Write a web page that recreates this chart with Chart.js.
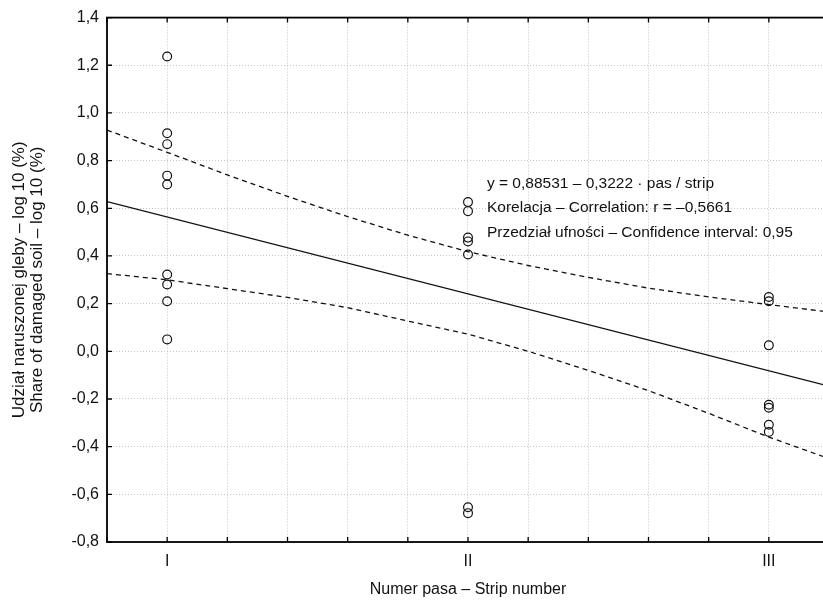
<!DOCTYPE html>
<html><head><meta charset="utf-8">
<script src="https://cdn.jsdelivr.net/npm/chart.js@4.4.0/dist/chart.umd.min.js"></script>
<style>html,body{margin:0;padding:0;overflow:hidden;background:#fff;width:823px;height:601px}canvas{display:block}</style>
</head><body>
<canvas id="c" width="840" height="601"></canvas>
<script>
// ---- data ----
const stripPositions = [1, 2, 3];
const stripLabels = ['I', 'II', 'III'];
const stripI = [1.237, 0.915, 0.869, 0.737, 0.700, 0.322, 0.280, 0.210, 0.050];
const stripII = [0.626, 0.588, 0.477, 0.461, 0.406, -0.654, -0.679];
const stripIII = [0.228, 0.210, 0.025, -0.224, -0.237, -0.308, -0.338];
const fitX = [0.8, 3.2];
const fitY = [0.628, -0.146];
const bandX = [0.8, 1.0, 1.2, 1.4, 1.6, 1.8, 2.0, 2.2, 2.4, 2.6, 2.8, 3.0, 3.2];
const upperBand = [0.928, 0.835, 0.740, 0.650, 0.565, 0.487, 0.418, 0.360, 0.310, 0.265, 0.228, 0.196, 0.165];
const lowerBand = [0.326, 0.300, 0.263, 0.226, 0.183, 0.127, 0.072, 0.000, -0.080, -0.165, -0.260, -0.360, -0.450];
const annotationLines = [
  'y = 0,88531 \u2013 0,3222 \u00b7 pas / strip',
  'Korelacja \u2013 Correlation: r = \u20130,5661',
  'Przedzia\u0142 ufno\u015bci \u2013 Confidence interval: 0,95'
];
const xTitle = 'Numer pasa \u2013 Strip number';
const yTitle = ['Udzia\u0142 naruszonej gleby \u2013 log 10 (%)', 'Share of damaged soil \u2013 log 10 (%)'];

const FONT = '"Liberation Sans", Arial, Helvetica, sans-serif';
const pts = (xs, ys) => ys.map((v, i) => ({ x: Array.isArray(xs) ? xs[i] : xs, y: v }));

const framePlugin = {
  id: 'frame',
  afterDatasetsDraw(chart) {
    const { ctx, chartArea: a, scales: { x, y } } = chart;
    ctx.save();
    ctx.strokeStyle = '#000';
    ctx.lineWidth = 1.3;
    ctx.beginPath();
    y.ticks.forEach(t => {
      const p = y.getPixelForValue(t.value);
      ctx.moveTo(a.left, p); ctx.lineTo(a.left + 5, p);
      ctx.moveTo(a.right, p); ctx.lineTo(a.right - 5, p);
    });
    x.ticks.forEach(t => {
      const p = x.getPixelForValue(t.value);
      ctx.moveTo(p, a.bottom); ctx.lineTo(p, a.bottom - 5);
      ctx.moveTo(p, a.top); ctx.lineTo(p, a.top + 5);
    });
    ctx.stroke();
    ctx.lineWidth = 1.8;
    ctx.strokeRect(a.left, a.top, a.right - a.left, a.bottom - a.top);
    ctx.fillStyle = '#111';
    ctx.font = '15.5px ' + FONT;
    ctx.textBaseline = 'middle';
    ctx.textAlign = 'left';
    const ax = x.getPixelForValue(2.063);
    const ay = y.getPixelForValue(0.704);
    annotationLines.forEach((s, i) => ctx.fillText(s, ax, ay + i * 24.5));
    ctx.restore();
  }
};

const lineDs = (data, dash) => ({
  type: 'scatter', data, showLine: true, pointRadius: 0, borderColor: '#111',
  borderWidth: dash ? 1.3 : 1.4, borderDash: dash ? [5, 4] : [], fill: false, tension: 0, order: 2
});
const ptDs = (data) => ({
  type: 'scatter', data, pointRadius: 4.4, pointStyle: 'circle', borderColor: '#111',
  backgroundColor: 'rgba(0,0,0,0)', borderWidth: 1.2, showLine: false, order: 1
});

new Chart(document.getElementById('c'), {
  type: 'scatter',
  data: {
    datasets: [
      ptDs(pts(stripPositions[0], stripI)),
      ptDs(pts(stripPositions[1], stripII)),
      ptDs(pts(stripPositions[2], stripIII)),
      lineDs(pts(fitX, fitY), false),
      lineDs(pts(bandX, upperBand), true),
      lineDs(pts(bandX, lowerBand), true)
    ]
  },
  plugins: [framePlugin],
  options: {
    responsive: false,
    animation: false,
    devicePixelRatio: 1,
    layout: { padding: { top: 17, right: 11, bottom: 0, left: 0 } },
    plugins: { legend: { display: false }, tooltip: { enabled: false } },
    scales: {
      x: {
        type: 'linear', min: 0.8, max: 3.2,
        afterFit(s) { s.height = 59; },
        ticks: {
          stepSize: 0.2, autoSkip: false, maxRotation: 0, padding: 10, color: '#111',
          font: { family: FONT, size: 16 },
          callback(v) {
            const r = Math.round(v * 10) / 10;
            const i = stripPositions.indexOf(r);
            return i >= 0 ? stripLabels[i] : '';
          }
        },
        grid: { color: '#c4c4c4', lineWidth: 1, drawTicks: false },
        border: { display: false, dash: [1, 2] },
        title: { display: true, text: xTitle, color: '#111', font: { family: FONT, size: 16 }, padding: { top: 0, bottom: 1.5 } }
      },
      y: {
        type: 'linear', min: -0.8, max: 1.4,
        afterFit(s) { s.width = 107; },
        ticks: {
          stepSize: 0.2, padding: 8, color: '#111',
          font: { family: FONT, size: 16 },
          callback(v) { return (Math.round(v * 10) / 10).toFixed(1).replace('.', ','); }
        },
        grid: { color: '#c4c4c4', lineWidth: 1, drawTicks: false },
        border: { display: false, dash: [1, 2] },
        title: { display: true, text: yTitle, color: '#111', font: { family: FONT, size: 17, lineHeight: 1.1 }, padding: { top: 9.5, bottom: 0 } }
      }
    }
  }
});
</script>
</body></html>
